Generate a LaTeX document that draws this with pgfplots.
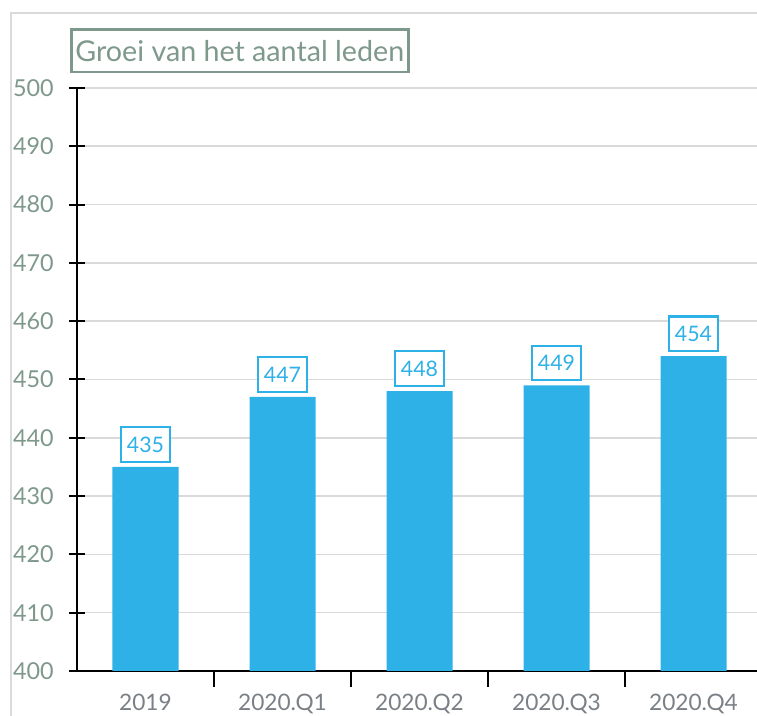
\documentclass[border=0pt]{standalone}
\usepackage{pgfplots}
\pgfplotsset{compat=1.18}
\usepackage{fontspec}
\setmainfont{Lato}
\definecolor{barblue}{HTML}{2EB1E7}
\definecolor{sage}{HTML}{7E988C}
\definecolor{xlab}{HTML}{7A8086}
\definecolor{gridc}{HTML}{DADADA}
\begin{document}
\begin{tikzpicture}
\useasboundingbox (0,0) rectangle (567.75pt,537pt);
\draw[gridc, line width=1pt] (8.25pt,0) -- (8.25pt,527.25pt) -- (580pt,527.25pt);
\node[draw=sage, line width=2pt, text=sage, font=\fontsize{21.5}{24}\selectfont, inner sep=3pt, anchor=north west, minimum height=32pt] at (52.5pt,516pt) {Groei van het aantal leden};
\begin{axis}[
  at={(57.75pt,33.75pt)}, anchor=south west,
  scale only axis, width=513.75pt, height=437.25pt,
  xmin=-0.5, xmax=4.5, ymin=400, ymax=500,
  ytick={400,410,...,500},
  xtick={0,1,2,3,4},
  xticklabels={2019,2020.Q1,2020.Q2,2020.Q3,2020.Q4},
  minor xtick={0.5,1.5,2.5,3.5},
  axis x line=bottom, axis y line=left,
  axis line style={-, line width=1.5pt, black},
  major x tick style={draw=none},
  minor x tick style={black, line width=1.5pt},
  major y tick style={black, line width=1.5pt},
  tick align=center,
  major tick length=12pt, minor tick length=12pt,
  ymajorgrids, grid style={gridc, line width=1.2pt},
  /pgf/number format/assume math mode=true,
  yticklabel style={text=sage, font=\fontsize{17.5}{20}\selectfont, xshift=-8pt},
  xticklabel style={text=xlab, font=\fontsize{17}{20}\selectfont, yshift=-2pt},
  ybar, bar width=49.5pt,
  nodes near coords,
  every node near coord/.append style={draw=barblue, fill=white, line width=1.6pt, text=barblue, font=\fontsize{16}{18}\selectfont, inner sep=2pt, minimum width=37pt, minimum height=26pt, anchor=south, yshift=3pt},
]
\addplot[fill=barblue, draw=none] coordinates {(0,435) (1,447) (2,448) (3,449) (4,454)};
\end{axis}
\end{tikzpicture}
\end{document}
